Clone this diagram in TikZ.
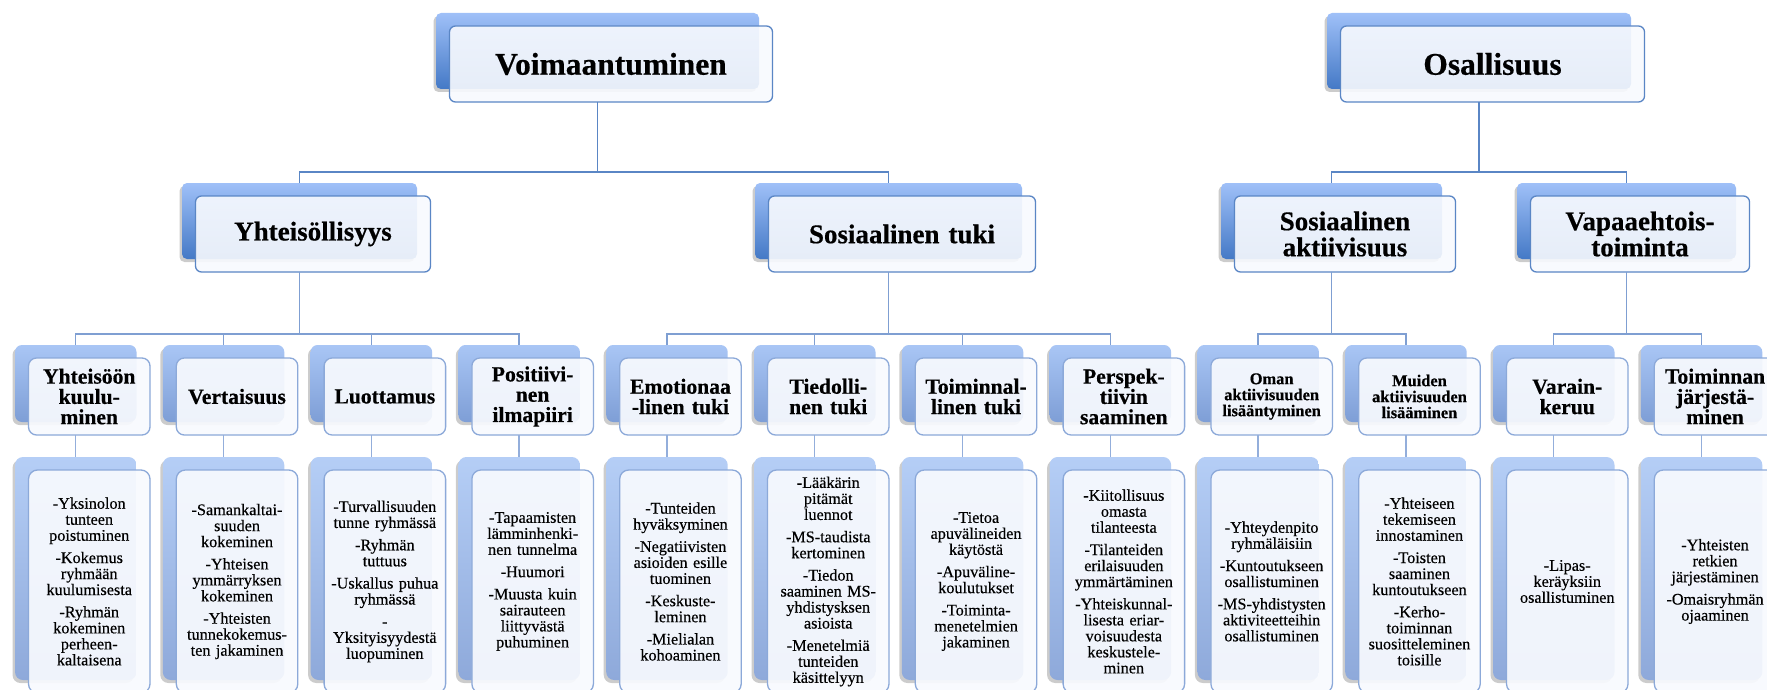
\documentclass[tikz,border=0pt]{standalone}
\usepackage{fontspec}
\setmainfont{Liberation Serif}
\newfontfamily\bodyf{Liberation Serif}[FakeBold=0.4]
\newfontfamily\titlef{Liberation Serif}[BoldFeatures={FakeBold=0.5}]
\usetikzlibrary{shadows}
\definecolor{bAt}{HTML}{9FC0F8}
\definecolor{bAb}{HTML}{4479C6}
\definecolor{bBt}{HTML}{A9C6F5}
\definecolor{bBb}{HTML}{7E9ED6}
\definecolor{bCt}{HTML}{B5CEF6}
\definecolor{bCb}{HTML}{8EA9DA}
\definecolor{frA}{HTML}{5A86C5}
\definecolor{frB}{HTML}{8CA9D9}
\definecolor{ffill}{HTML}{F8FAFE}
\definecolor{lnA}{HTML}{5A86C5}
\definecolor{lnB}{HTML}{7F9FD2}
\definecolor{lnC}{HTML}{93AEDB}
\tikzset{
  boxbase/.style={rectangle, inner sep=0pt, outer sep=0pt},
  shad/.style={drop shadow={shadow xshift=-2.5pt, shadow yshift=-3pt, opacity=0.2, fill=black}},
  backA/.style={boxbase, shad, rounded corners=5pt, top color=bAt, bottom color=bAb},
  backB/.style={boxbase, shad, rounded corners=7pt, top color=bBt, bottom color=bBb},
  backC/.style={boxbase, shad, rounded corners=8pt, top color=bCt, bottom color=bCb},
  frontA/.style={boxbase, rounded corners=6pt, draw=frA, line width=1.3pt, fill=ffill, fill opacity=0.9, text opacity=1, align=center},
  frontB/.style={boxbase, rounded corners=8pt, draw=frB, line width=1.3pt, fill=ffill, fill opacity=0.92, text opacity=1, align=center, text width=116pt, font=\titlef\bfseries\fontsize{21.6}{20.3}\selectfont},
  frontC/.style={boxbase, rounded corners=9pt, draw=frB, line width=1.3pt, fill=ffill, fill opacity=0.92, text opacity=1, align=center, text width=118pt, font=\bodyf\fontsize{16.2}{16}\selectfont},
  topfont/.style={font=\titlef\bfseries\fontsize{31.5}{32}\selectfont},
  midfont/.style={font=\titlef\bfseries\fontsize{27}{26}\selectfont},
  smallttl/.style={font=\titlef\bfseries\fontsize{16.4}{16}\selectfont},
  linkA/.style={draw=lnA, line width=1.4pt},
  linkB/.style={draw=lnB, line width=1.4pt},
  linkC/.style={draw=lnC, line width=1.4pt},
}
\newcommand\mkpair[8]{%
  \node[back#2, minimum width=#5pt, minimum height=#6pt] (b#1) at (#3,#4) {};
  \node[front#2, minimum width=#5pt, minimum height=#6pt, #7] (f#1) at (#3+13.5,#4+13) {#8};
}
\newcommand\bh{{\titlef\bfseries -}}
\newcommand\gap{\\[6.3pt]}
\begin{document}
\begin{tikzpicture}[x=1pt,y=-1pt]
\useasboundingbox (0,0) rectangle (1767,690);
\clip (0,0) rectangle (1767,690);
\fill[white] (0,0) rectangle (1767,690);

% level 1
\mkpair{V}{A}{597.5}{51}{323}{76}{topfont}{Voimaantuminen}
\mkpair{O}{A}{1479}{51}{304}{76}{topfont}{Osallisuus}
% level 2
\mkpair{Y}{A}{299.5}{221}{235}{76}{midfont, text width=225pt}{Yhteisöllisyys}
\mkpair{T}{A}{888.5}{221}{267}{76}{midfont, text width=257pt}{Sosiaalinen tuki}
\mkpair{S}{A}{1331.5}{221}{221}{76}{midfont, text width=211pt}{Sosiaalinen\\aktiivisuus}
\mkpair{P}{A}{1626.5}{221}{219}{76}{midfont, text width=209pt}{Vapaaehtois-\\toiminta}
% level 3
\mkpair{a}{B}{75.75}{383.5}{121.5}{77}{}{Yhteisöön\\kuulu-\\minen}
\mkpair{b}{B}{223.55}{383.5}{121.5}{77}{}{Vertaisuus}
\mkpair{c}{B}{371.35}{383.5}{121.5}{77}{}{Luottamus}
\mkpair{d}{B}{519.15}{383.5}{121.5}{77}{}{Positiivi-\\nen\\ilmapiiri}
\mkpair{e}{B}{666.95}{383.5}{121.5}{77}{}{Emotionaa\\-linen tuki}
\mkpair{f}{B}{814.75}{383.5}{121.5}{77}{}{Tiedolli-\\nen tuki}
\mkpair{g}{B}{962.55}{383.5}{121.5}{77}{}{Toiminnal-\\linen tuki}
\mkpair{h}{B}{1110.35}{383.5}{121.5}{77}{}{Perspek-\\tiivin\\saaminen}
\mkpair{i}{B}{1258.15}{383.5}{121.5}{77}{smallttl}{Oman\\aktiivisuuden\\lisääntyminen}
\mkpair{j}{B}{1405.95}{383.5}{121.5}{77}{smallttl}{Muiden\\aktiivisuuden\\lisääminen}
\mkpair{k}{B}{1553.75}{383.5}{121.5}{77}{}{Varain-\\keruu}
\mkpair{l}{B}{1701.55}{383.5}{121.5}{77}{}{Toiminnan\\järjestä-\\minen}
% level 4
\mkpair{A}{C}{75.75}{568.5}{121.5}{223}{}{-Yksinolon\\tunteen\\poistuminen\gap-Kokemus\\ryhmään\\kuulumisesta\gap-Ryhmän\\kokeminen\\perheen-\\kaltaisena}
\mkpair{B}{C}{223.55}{568.5}{121.5}{223}{}{-Samankaltai-\\suuden\\kokeminen\gap-Yhteisen\\ymmärryksen\\kokeminen\gap-Yhteisten\\tunnekokemus-\\ten jakaminen}
\mkpair{C}{C}{371.35}{568.5}{121.5}{223}{}{-Turvallisuuden\\tunne ryhmässä\gap-Ryhmän\\tuttuus\gap-Uskallus puhua\\ryhmässä\gap-\\Yksityisyydestä\\luopuminen}
\mkpair{D}{C}{519.15}{568.5}{121.5}{223}{}{-Tapaamisten\\lämminhenki-\\nen tunnelma\gap-Huumori\gap-Muusta kuin\\sairauteen\\liittyvästä\\puhuminen}
\mkpair{E}{C}{666.95}{568.5}{121.5}{223}{}{-Tunteiden\\hyväksyminen\gap-Negatiivisten\\asioiden esille\\tuominen\gap-Keskuste-\\leminen\gap-Mielialan\\kohoaminen}
\mkpair{F}{C}{814.75}{568.5}{121.5}{223}{}{\bh Lääkärin\\pitämät\\luennot\gap-MS-taudista\\kertominen\gap-Tiedon\\saaminen MS-\\yhdistysksen\\asioista\gap-Menetelmiä\\tunteiden\\käsittelyyn}
\mkpair{G}{C}{962.55}{568.5}{121.5}{223}{}{\bh Tietoa\\apuvälineiden\\käytöstä\gap-Apuväline-\\koulutukset\gap-Toiminta-\\menetelmien\\jakaminen}
\mkpair{H}{C}{1110.35}{568.5}{121.5}{223}{}{\bh Kiitollisuus\\omasta\\tilanteesta\gap-Tilanteiden\\erilaisuuden\\ymmärtäminen\gap-Yhteiskunnal-\\lisesta eriar-\\voisuudesta\\keskustele-\\minen}
\mkpair{I}{C}{1258.15}{568.5}{121.5}{223}{}{-Yhteydenpito\\ryhmäläisiin\gap-Kuntoutukseen\\osallistuminen\gap-MS-yhdistysten\\aktiviteetteihin\\osallistuminen}
\mkpair{J}{C}{1405.95}{568.5}{121.5}{223}{}{-Yhteiseen\\tekemiseen\\innostaminen\gap-Toisten\\saaminen\\kuntoutukseen\gap-Kerho-\\toiminnan\\suositteleminen\\toisille}
\mkpair{K}{C}{1553.75}{568.5}{121.5}{223}{}{\bh Lipas-\\keräyksiin\\osallistuminen}
\mkpair{L}{C}{1701.55}{568.5}{121.5}{223}{}{-Yhteisten\\retkien\\järjestäminen\gap-Omaisryhmän\\ojaaminen}

% junctions
\coordinate (jV) at (597.5,172);
\coordinate (jO) at (1479,172);
\coordinate (jY) at (299.5,334);
\coordinate (jT) at (888.5,334);
\coordinate (jS) at (1331.5,334);
\coordinate (jP) at (1626.5,334);

% level 1 -> 2
\draw[linkA] (bV.south |- fV.south) -- (jV);
\draw[linkA] (bY.north) |- (jV) -| (bT.north);
\draw[linkA] (bO.south |- fO.south) -- (jO);
\draw[linkA] (bS.north) |- (jO) -| (bP.north);
% level 2 -> 3
\draw[linkB] (bY.south |- fY.south) -- (jY);
\draw[linkB] (ba.north) |- (jY) -| (bd.north);
\draw[linkB] (bb.north) |- (jY);
\draw[linkB] (bc.north) |- (jY);
\draw[linkB] (bT.south |- fT.south) -- (jT);
\draw[linkB] (be.north) |- (jT) -| (bh.north);
\draw[linkB] (bf.north) |- (jT);
\draw[linkB] (bg.north) |- (jT);
\draw[linkB] (bS.south |- fS.south) -- (jS);
\draw[linkB] (bi.north) |- (jS) -| (bj.north);
\draw[linkB] (bP.south |- fP.south) -- (jP);
\draw[linkB] (bk.north) |- (jP) -| (bl.north);
% level 3 -> 4
\draw[linkC] (ba.south |- fa.south) -- (bA.north);
\draw[linkC] (bb.south |- fb.south) -- (bB.north);
\draw[linkC] (bc.south |- fc.south) -- (bC.north);
\draw[linkC] (bd.south |- fd.south) -- (bD.north);
\draw[linkC] (be.south |- fe.south) -- (bE.north);
\draw[linkC] (bf.south |- ff.south) -- (bF.north);
\draw[linkC] (bg.south |- fg.south) -- (bG.north);
\draw[linkC] (bh.south |- fh.south) -- (bH.north);
\draw[linkC] (bi.south |- fi.south) -- (bI.north);
\draw[linkC] (bj.south |- fj.south) -- (bJ.north);
\draw[linkC] (bk.south |- fk.south) -- (bK.north);
\draw[linkC] (bl.south |- fl.south) -- (bL.north);
\end{tikzpicture}
\end{document}
